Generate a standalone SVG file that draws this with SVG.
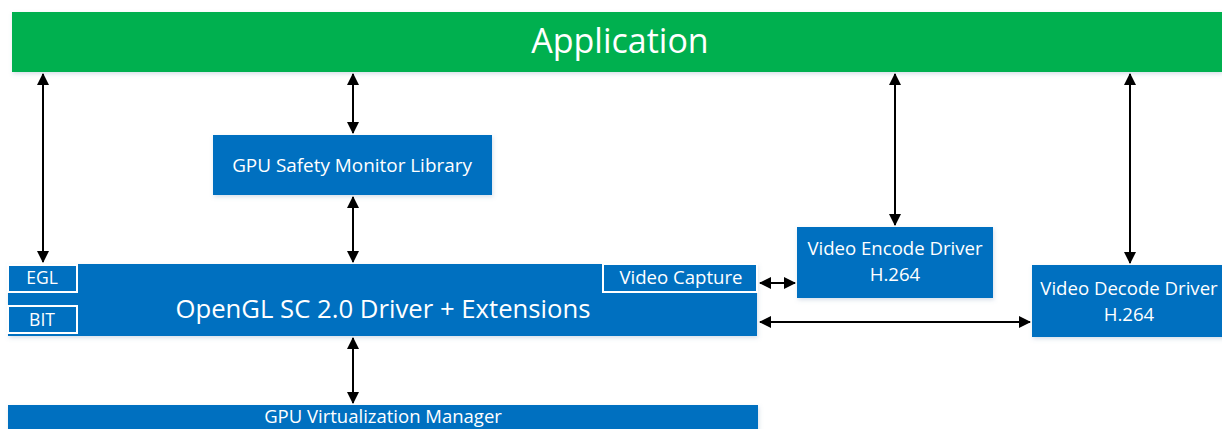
<svg xmlns="http://www.w3.org/2000/svg" width="1222" height="429" viewBox="0 0 1222 429">
<style>
.blue{fill:#0070C0}
.green{fill:#00B050}
.sub{fill:#0070C0;stroke:#fff;stroke-width:2}
text{font-family:"Open Sans","Noto Sans","DejaVu Sans",sans-serif;fill:#fff;text-anchor:middle}
.conn line{stroke:#000;stroke-width:2;marker-start:url(#ah);marker-end:url(#ah)}
</style>
<defs>
<marker id="ah" viewBox="0 0 12 12" refX="11" refY="6" markerWidth="12" markerHeight="12" markerUnits="userSpaceOnUse" orient="auto-start-reverse">
<path d="M0,0 L12,6 L0,12 z" fill="#000"/>
</marker>
<filter id="sh" x="-5%" y="-20%" width="110%" height="150%">
<feDropShadow dx="1" dy="2" stdDeviation="2" flood-color="#5b7fa8" flood-opacity="0.25"/>
</filter>
</defs>
<rect width="1222" height="429" fill="#fff"/>
<g id="application">
<rect class="green" x="12" y="12" width="1210" height="60" filter="url(#sh)"/>
<text x="620" y="53" font-size="34">Application</text>
</g>
<g id="gpu-safety-monitor">
<rect class="blue" x="213" y="135" width="279" height="60" filter="url(#sh)"/>
<text x="352" y="172" font-size="18.9">GPU Safety Monitor Library</text>
</g>
<g id="opengl-driver">
<rect class="blue" x="8" y="264" width="749" height="72" filter="url(#sh)"/>
<text x="383" y="318" font-size="25.7">OpenGL SC 2.0 Driver + Extensions</text>
</g>
<g id="egl">
<rect class="sub" x="8" y="265" width="69" height="27"/>
<text x="42" y="284" font-size="17.5">EGL</text>
</g>
<g id="bit">
<rect class="sub" x="8" y="306" width="69" height="27"/>
<text x="42" y="326" font-size="17.5">BIT</text>
</g>
<g id="video-capture">
<rect class="sub" x="603" y="264" width="154" height="28"/>
<text x="681" y="284" font-size="18.6">Video Capture</text>
</g>
<g id="video-encode">
<rect class="blue" x="797" y="227" width="196" height="71" filter="url(#sh)"/>
<text x="895" y="255" font-size="18.6">Video Encode Driver</text>
<text x="895" y="281" font-size="18.6">H.264</text>
</g>
<g id="video-decode">
<rect class="blue" x="1032" y="265" width="195" height="72" filter="url(#sh)"/>
<text x="1129" y="295" font-size="18.6">Video Decode Driver</text>
<text x="1129" y="321" font-size="18.6">H.264</text>
</g>
<g id="gpu-virtualization">
<rect class="blue" x="8" y="405" width="750" height="40" filter="url(#sh)"/>
<text x="383" y="423" font-size="18.5">GPU Virtualization Manager</text>
</g>
<g class="conn" id="connectors">
<line x1="43" y1="74" x2="43" y2="262"/>
<line x1="353" y1="74" x2="353" y2="133"/>
<line x1="353" y1="197" x2="353" y2="262"/>
<line x1="353" y1="338" x2="353" y2="403"/>
<line x1="895" y1="74" x2="895" y2="225"/>
<line x1="1130" y1="74" x2="1130" y2="263"/>
<line x1="760" y1="283" x2="795" y2="283"/>
<line x1="760" y1="322" x2="1030" y2="322"/>
</g>
</svg>
